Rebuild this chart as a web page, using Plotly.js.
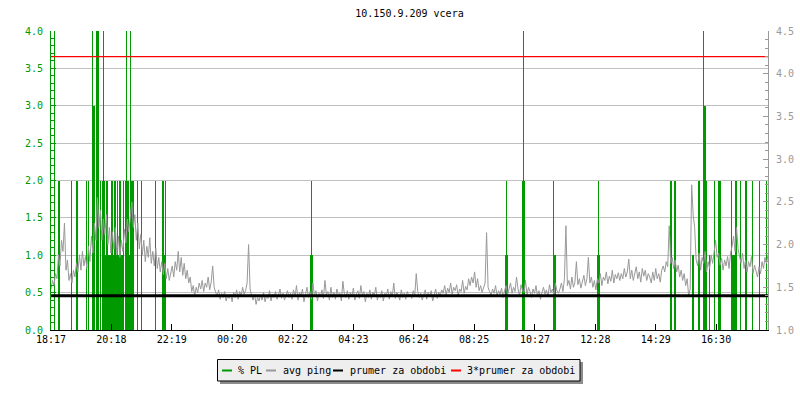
<!DOCTYPE html>
<html>
<head>
<meta charset="utf-8">
<script src="https://cdn.plot.ly/plotly-3.0.1.min.js"></script>
<style>html,body{margin:0;padding:0;background:#fff;}#chart{width:800px;height:400px;}</style>
</head>
<body>
<div id="chart"></div>
<script>
// ---- data ----
var chartTitle = '10.150.9.209 vcera';
var tickMinutes = [0, 121, 242, 363, 485, 606, 727, 848, 970, 1091, 1212, 1333];
var tickLabels = ['18:17', '20:18', '22:19', '00:20', '02:22', '04:23', '06:24', '08:25', '10:27', '12:28', '14:29', '16:30'];
var seriesNames = ['% PL', 'avg ping', 'prumer za obdobi', '3*prumer za obdobi'];

// avg ping (ms, right axis), one sample every 3 minutes from 18:17
var pingStep = 3;
var pingValues = [
  1.48,1.58,1.52,1.66,1.60,1.88,1.75,2.05,1.92,2.25,1.70,1.82,1.58,1.66,1.55,1.70,1.62,1.78,1.68,1.88,
  1.70,1.92,1.75,1.86,1.72,1.98,1.80,2.10,1.90,2.25,2.05,2.55,2.20,2.40,2.05,2.30,2.12,2.35,2.00,2.20,
  1.90,2.15,1.95,2.20,1.88,2.10,1.85,2.05,1.92,2.18,2.02,2.30,2.15,2.38,2.50,2.20,2.35,2.05,2.25,1.95,
  2.12,1.88,2.05,1.80,1.98,1.85,2.08,1.78,1.92,1.75,1.96,1.72,1.85,1.68,1.80,1.65,1.78,1.60,1.72,1.58,
  1.66,1.75,1.62,1.80,1.70,1.92,1.68,1.85,1.64,1.78,1.60,1.70,1.55,1.62,1.45,1.52,1.40,1.50,1.44,1.55,
  1.48,1.58,1.45,1.55,1.50,1.62,1.47,1.56,1.75,1.50,1.44,1.40,1.47,1.36,1.43,1.38,1.45,1.34,1.41,1.37,
  1.42,1.33,1.44,1.38,1.47,1.36,1.45,1.40,1.50,1.42,1.46,1.55,2.00,1.48,1.40,1.35,1.42,1.30,1.38,1.34,
  1.41,1.35,1.44,1.33,1.40,1.37,1.46,1.34,1.42,1.38,1.45,1.36,1.41,1.48,1.37,1.43,1.35,1.40,1.46,1.38,
  1.43,1.36,1.47,1.39,1.52,1.35,1.44,1.40,1.48,1.33,1.42,1.50,1.38,1.45,1.36,1.55,1.40,1.46,1.34,1.43,
  1.39,1.47,1.37,1.58,1.41,1.45,1.35,1.50,1.38,1.44,1.36,1.48,1.40,1.43,1.34,1.57,1.42,1.38,1.46,1.36,
  1.44,1.39,1.49,1.35,1.42,1.46,1.37,1.52,1.40,1.45,1.33,1.43,1.38,1.47,1.36,1.44,1.41,1.50,1.35,1.42,
  1.38,1.46,1.34,1.43,1.40,1.48,1.36,1.45,1.39,1.55,1.37,1.44,1.41,1.35,1.47,1.38,1.43,1.36,1.45,1.40,
  1.42,1.37,1.46,1.40,1.66,1.45,1.38,1.43,1.35,1.41,1.47,1.36,1.44,1.39,1.46,1.34,1.42,1.48,1.37,1.44,
  1.40,1.47,1.43,1.52,1.41,1.49,1.44,1.55,1.42,1.50,1.46,1.53,1.40,1.48,1.45,1.58,1.43,1.51,1.47,1.60,
  1.52,1.62,1.55,1.68,1.50,1.60,1.46,1.52,1.44,1.49,1.55,2.14,1.50,1.45,1.41,1.48,1.43,1.52,1.40,1.46,
  1.42,1.49,1.38,1.46,1.52,1.41,1.47,1.55,1.43,1.50,1.45,1.62,1.48,1.40,1.53,1.46,1.44,1.58,1.41,1.50,
  1.45,1.38,1.48,1.43,1.52,1.40,1.46,1.36,1.44,1.50,1.42,1.47,1.39,1.53,1.44,1.48,1.41,1.55,1.46,1.43,
  1.48,1.55,1.45,1.60,2.22,1.52,1.58,1.48,1.62,1.50,1.56,1.80,1.53,1.60,1.49,1.57,1.64,1.52,1.60,1.85,
  1.55,1.62,1.50,1.58,1.47,1.60,1.55,1.66,1.52,1.62,1.58,1.68,1.54,1.63,1.57,1.70,1.55,1.65,1.60,1.67,
  1.58,1.66,1.60,1.72,1.62,1.68,1.83,1.60,1.70,1.58,1.66,1.74,1.60,1.68,1.56,1.72,1.63,1.70,1.58,1.66,
  1.62,1.55,1.68,1.58,1.72,1.60,1.66,1.56,1.70,1.75,1.68,1.80,1.74,2.22,1.78,1.85,1.72,1.82,1.68,1.76,
  1.62,1.70,1.58,1.66,1.52,1.60,1.40,1.48,2.70,2.35,2.20,1.82,1.75,1.90,1.70,1.85,1.78,1.92,1.68,1.80,
  1.72,1.88,1.78,1.95,2.05,1.85,1.90,1.76,1.84,1.70,1.82,1.75,1.86,1.72,1.90,1.98,2.10,1.92,2.20,1.95,
  1.85,1.78,1.90,1.72,1.82,1.68,1.80,1.74,1.86,1.66,1.76,1.70,1.62,1.74,1.66,1.80,1.72,1.85,1.78,1.88
];

// packet loss (% PL, left axis): minute offset from 18:17 and value
var plMinutes = [
  8, 16, 18, 42, 52, 54, 72, 76, 84, 86, 88, 92, 94, 96, 100,
  104, 106, 108, 110, 112, 114, 116, 118, 120, 122, 124, 126, 128, 130, 132,
  134, 136, 138, 140, 142, 144, 146, 150, 152, 154, 156, 158, 160, 162, 164,
  166, 174, 182, 210, 224, 226, 228, 230, 520, 522, 524, 910, 912, 914, 944,
  946, 948, 1008, 1010, 1012, 1096, 1098, 1100, 1242, 1244, 1250, 1252, 1286, 1288, 1298,
  1300, 1308, 1310, 1312, 1314, 1320, 1330, 1338, 1340, 1342, 1364, 1366, 1368, 1370, 1372,
  1374, 1382, 1392, 1394, 1406, 1420, 1434
];
var plValues = [
  6, 2, 2, 2, 2, 2, 2, 2, 6, 3, 3, 6, 6, 6, 2,
  2, 6, 2, 1, 2, 2, 1, 1, 1, 2, 2, 1, 2, 2, 1,
  2, 1, 2, 2, 1, 1, 2, 2, 6, 2, 2, 1, 6, 2, 2,
  2, 2, 2, 2, 2, 2, 1, 2, 1, 2, 1, 1, 2, 1, 2,
  6, 2, 2, 1, 1, 1, 2, 1, 2, 2, 2, 2, 1, 1, 2,
  2, 6, 3, 3, 2, 1, 2, 2, 2, 2, 2, 1, 1, 1, 2,
  2, 2, 2, 2, 2, 2, 2
];

var meanPing = 1.40;
var tripleMeanPing = 4.20;
var xMax = 1437;

// ---- build ----
var pingMinutes = pingValues.map(function (v, i) { return i * pingStep; });
var GREEN = '#009900', GREY = '#999999', FONT = 'DejaVu Sans Mono';

var traces = [
  {type: 'bar', name: seriesNames[0], x: plMinutes, y: plValues, width: 2,
   marker: {color: GREEN, line: {width: 0}}, yaxis: 'y', hoverinfo: 'skip'},
  {type: 'scatter', mode: 'lines', name: seriesNames[1], x: pingMinutes, y: pingValues,
   line: {color: GREY, width: 1}, yaxis: 'y2'},
  {type: 'scatter', mode: 'lines', name: seriesNames[2], x: [0, xMax], y: [meanPing, meanPing],
   line: {color: '#000000', width: 3}, yaxis: 'y2'},
  {type: 'scatter', mode: 'lines', name: seriesNames[3], x: [0, xMax], y: [tripleMeanPing, tripleMeanPing],
   line: {color: '#ff0000', width: 1.2}, yaxis: 'y2'}
];

// pixel helpers for the hand-drawn legend box
var L = 51, R = 768, T = 31, B = 330;
function px(X) { return (X - L) / (R - L); }
function py(Y) { return (B - Y) / (B - T); }

var legendColors = [GREEN, GREY, '#000000', '#ff0000'];
var legendLineX = [222, 266, 333, 451];
var legendTextX = [236, 281, 348, 465];
var legY = 370.5;

var shapes = [
  {type: 'rect', xref: 'paper', yref: 'paper', x0: px(220), x1: px(583), y0: py(362), y1: py(384),
   fillcolor: '#8c8c8c', line: {width: 0}, layer: 'above'},
  {type: 'rect', xref: 'paper', yref: 'paper', x0: px(217.5), x1: px(580), y0: py(359.5), y1: py(381),
   fillcolor: '#eeeeee', line: {color: '#000000', width: 1}, layer: 'above'}
];
var annotations = [];
for (var k = 0; k < 4; k++) {
  shapes.push({type: 'line', xref: 'paper', yref: 'paper', x0: px(legendLineX[k]), x1: px(legendLineX[k] + 10),
    y0: py(legY), y1: py(legY), line: {color: legendColors[k], width: 2}, layer: 'above'});
  annotations.push({xref: 'paper', yref: 'paper', x: px(legendTextX[k]), y: py(legY), xanchor: 'left', yanchor: 'middle',
    text: seriesNames[k], showarrow: false, font: {family: FONT, size: 10, color: '#000000'}});
}

var layout = {
  width: 800, height: 400,
  margin: {l: L, r: 800 - R, t: T, b: 400 - B, pad: 0},
  paper_bgcolor: '#ffffff', plot_bgcolor: '#ffffff',
  showlegend: false,
  bargap: 0,
  title: {text: chartTitle, font: {family: FONT, size: 10, color: '#000000'},
          xref: 'paper', x: 0.5, xanchor: 'center', yref: 'container', y: 1 - 13 / 400, yanchor: 'middle'},
  xaxis: {range: [0, xMax], tickmode: 'array', tickvals: tickMinutes, ticktext: tickLabels,
          ticks: 'inside', ticklen: 6, tickcolor: '#000000', tickwidth: 1,
          showline: true, linecolor: '#000000', linewidth: 1, showgrid: false, zeroline: false,
          tickfont: {family: FONT, size: 10, color: '#000000'}, fixedrange: true},
  yaxis: {range: [0, 4], dtick: 0.5, tick0: 0, tickformat: '.1f',
          ticks: 'inside', ticklen: 5, tickcolor: GREEN, tickwidth: 1,
          showline: true, linecolor: GREEN, linewidth: 1,
          showgrid: true, gridcolor: '#c0c0c0', gridwidth: 1, zeroline: false,
          minor: {dtick: 0.1, ticks: 'inside', ticklen: 3, tickcolor: GREEN, showgrid: false},
          ticklabelstandoff: 5,
          tickfont: {family: FONT, size: 10, color: GREEN}, fixedrange: true},
  yaxis2: {range: [1, 4.5], dtick: 0.5, tick0: 1, tickformat: '.1f', overlaying: 'y', side: 'right',
          ticks: 'inside', ticklen: 5, tickcolor: GREY, tickwidth: 1,
          showline: true, linecolor: GREY, linewidth: 1, showgrid: false, zeroline: false,
          minor: {dtick: 0.1, ticks: 'inside', ticklen: 3, tickcolor: GREY, showgrid: false},
          ticklabelstandoff: 5,
          tickfont: {family: FONT, size: 10, color: GREY}, fixedrange: true},
  shapes: shapes,
  annotations: annotations
};

Plotly.newPlot('chart', traces, layout, {staticPlot: true, displayModeBar: false});
</script>
</body>
</html>
